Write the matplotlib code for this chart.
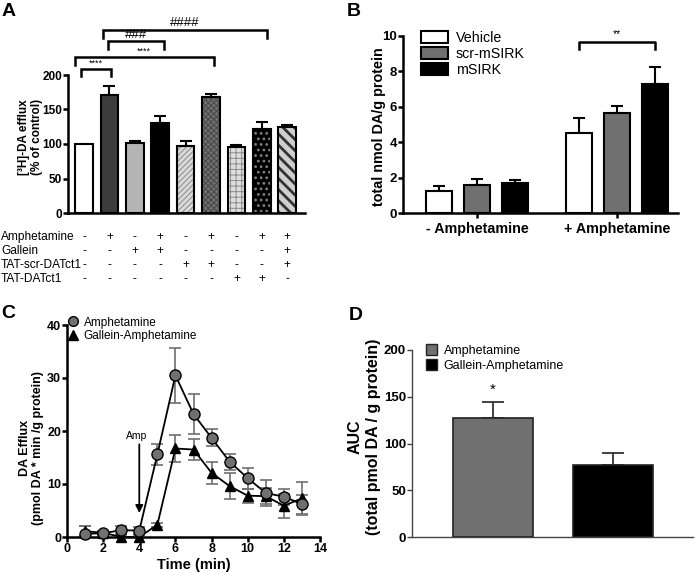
import matplotlib
matplotlib.use('Agg')
import matplotlib.pyplot as plt
import matplotlib.transforms as mtransforms
from matplotlib.lines import Line2D
from matplotlib.patches import Patch

plt.rcParams['font.family'] = ['Liberation Sans', 'DejaVu Sans']

# ---------------- Panel A data ----------------
a_values = [100, 171, 101, 130, 97, 168, 95, 122, 124]
a_errors = [0, 13, 3, 10, 7, 5, 4, 10, 4]
a_yticks = [0, 50, 100, 150, 200]
a_rows = ['Amphetamine', 'Gallein', 'TAT-scr-DATct1', 'TAT-DATct1']
a_amph = ['-', '+', '-', '+', '-', '+', '-', '+', '+']
a_gallein = ['-', '-', '+', '+', '-', '-', '-', '-', '+']
a_tatscr = ['-', '-', '-', '-', '+', '+', '-', '-', '+']
a_tat = ['-', '-', '-', '-', '-', '-', '+', '+', '-']
a_bracket_start = [-0.1, -0.35, 0.95, 0.75]
a_bracket_end = [1.05, 5.1, 3.15, 7.2]
a_bracket_top = [209, 226, 249, 265]
a_bracket_labels = ['****', '****', '###', '####']

# ---------------- Panel B data ----------------
b_groups = ['- Amphetamine', '+ Amphetamine']
b_series = ['Vehicle', 'scr-mSIRK', 'mSIRK']
b_vehicle = [1.25, 4.5]
b_vehicle_err = [0.3, 0.85]
b_scr = [1.6, 5.65]
b_scr_err = [0.32, 0.42]
b_msirk = [1.72, 7.3]
b_msirk_err = [0.15, 0.95]
b_yticks = [0, 2, 4, 6, 8, 10]

# ---------------- Panel C data ----------------
c_time = [1, 2, 3, 4, 5, 6, 7, 8, 9, 10, 11, 12, 13]
c_amph = [0.6, 0.7, 1.3, 1.2, 15.6, 30.5, 23.2, 18.7, 14.2, 11.1, 8.3, 7.6, 6.2]
c_amph_err = [1.4, 0.5, 0.8, 0.6, 2.0, 5.2, 3.8, 1.6, 1.5, 2.0, 2.4, 1.5, 1.8]
c_gall = [1.1, 0.8, 0.0, 0.0, 2.3, 16.7, 16.5, 12.1, 9.6, 7.8, 7.7, 5.9, 7.3]
c_gall_err = [0.9, 0.4, 0.4, 0.3, 0.4, 2.5, 2.0, 2.1, 2.5, 1.3, 1.5, 2.3, 3.1]
c_xticks = [0, 2, 4, 6, 8, 10, 12, 14]
c_yticks = [0, 10, 20, 30, 40]

# ---------------- Panel D data ----------------
d_labels = ['Amphetamine', 'Gallein-Amphetamine']
d_values = [127, 77]
d_errors = [17, 13]
d_yticks = [0, 50, 100, 150, 200]

W, H = 695, 573
fig = plt.figure(figsize=(W / 100, H / 100), dpi=100)


def px_axes(left, top, right, bottom):
    return fig.add_axes([left / W, (H - bottom) / H, (right - left) / W, (bottom - top) / H])


def style_axes(ax, lw=1.8, color='black', size=8.5):
    for s in ['top', 'right']:
        ax.spines[s].set_visible(False)
    for s in ['left', 'bottom']:
        ax.spines[s].set_linewidth(lw)
        ax.spines[s].set_color(color)
    ax.tick_params(axis='both', direction='out', length=3.5, width=lw, color=color,
                   labelsize=size, pad=0.8)
    for lab in ax.get_yticklabels() + ax.get_xticklabels():
        lab.set_fontweight('bold')


# ================= Panel A =================
axA = px_axes(68, 75, 305, 213)
a_face = ['white', '#3c3c3c', '#b4b4b4', 'black', '#dadada', '#727272', '#dedede', 'black', '#cfcfcf']
a_hatch = [None, None, None, None, '//////', 'xxxxxx', '+++', '...', '\\\\\\']
a_hcol = ['black', 'black', 'black', 'black', '#8a8a8a', '#4a4a4a', '#8a8a8a', '#808080', '#333333']
a_hlw = [1, 1, 1, 1, 0.7, 0.8, 0.7, 1.2, 2.0]
bw = 0.69
for i, v in enumerate(a_values):
    plt.rcParams['hatch.linewidth'] = a_hlw[i]
    axA.bar(i, v, width=bw, color=a_face[i], hatch=a_hatch[i], edgecolor=a_hcol[i], linewidth=0, zorder=2)
    axA.bar(i, v, width=bw, fill=False, edgecolor='black', linewidth=1.5, zorder=3)
    if a_errors[i] > 0:
        axA.errorbar(i, v, yerr=[[0], [a_errors[i]]], fmt='none', ecolor='black',
                     elinewidth=1.5, capsize=4, capthick=1.5, zorder=1)
axA.set_xlim(-0.63, 8.7)
axA.set_ylim(0, 200)
axA.set_yticks(a_yticks)
axA.set_xticks([])
style_axes(axA, size=8.5)
axA.set_ylabel('[³H]-DA efflux\n(% of control)', fontsize=8.5, fontweight='bold', linespacing=1.1)
axA.yaxis.set_label_coords(-0.105, 0.55)

for x0, x1, yt, lab in zip(a_bracket_start, a_bracket_end, a_bracket_top, a_bracket_labels):
    leg = 11
    axA.plot([x0, x0, x1, x1], [yt - leg, yt, yt, yt - leg], color='black', lw=1.8,
             clip_on=False, solid_joinstyle='miter')
    if lab.startswith('*'):
        axA.text((x0 + x1) / 2, yt + 2, lab, ha='center', va='bottom', fontsize=6.5, clip_on=False)
    else:
        axA.text((x0 + x1) / 2, yt + 1, lab, ha='center', va='bottom', fontsize=9.5, clip_on=False)

trA = mtransforms.blended_transform_factory(axA.transData, fig.transFigure)
row_y = [237, 251, 265, 279]
for r, (name, signs) in enumerate(zip(a_rows, [a_amph, a_gallein, a_tatscr, a_tat])):
    yy = (H - row_y[r]) / H
    fig.text(1 / W, yy, name, ha='left', va='center', fontsize=8.6)
    for i, s in enumerate(signs):
        axA.text(i, yy, s, transform=trA, ha='center', va='center', fontsize=8.5, clip_on=False)

# ================= Panel B =================
axB = px_axes(403, 36, 678, 213)
b_cols = ['white', '#707070', 'black']
b_vals = [b_vehicle, b_scr, b_msirk]
b_errs = [b_vehicle_err, b_scr_err, b_msirk_err]
b_off = [-0.27, 0.0, 0.27]
b_w = 0.186
handles = []
for k in range(3):
    gx = [g + b_off[k] for g in range(len(b_groups))]
    axB.bar(gx, b_vals[k], width=b_w, color=b_cols[k], edgecolor='black', linewidth=1.5, zorder=3)
    axB.errorbar(gx, b_vals[k], yerr=[[0] * len(gx), b_errs[k]], fmt='none', ecolor='black',
                 elinewidth=1.5, capsize=4, capthick=1.5, zorder=2)
    handles.append(Patch(facecolor=b_cols[k], edgecolor='black', linewidth=1.5, label=b_series[k]))
axB.set_xlim(-0.53, 1.436)
axB.set_ylim(0, 10)
axB.set_yticks(b_yticks)
axB.set_xticks(range(len(b_groups)))
axB.set_xticklabels(b_groups)
style_axes(axB, size=9.5)
axB.tick_params(axis='x', labelsize=10.3, pad=3)
axB.set_ylabel('total nmol DA/g protein', fontsize=10.4, fontweight='bold')
axB.yaxis.set_label_coords(-0.06, 0.49)
axB.legend(handles=handles, loc='upper left', bbox_to_anchor=(0.065, 1.03), frameon=False,
           prop={'size': 10.3}, handlelength=1.9, handleheight=0.9, labelspacing=0.15,
           handletextpad=0.55, borderaxespad=0, borderpad=0)
bx0 = 1 + b_off[0]
bx1 = 1 + b_off[2]
axB.plot([bx0, bx0, bx1, bx1], [9.27, 9.68, 9.68, 9.27], color='black', lw=1.8, clip_on=False)
axB.text((bx0 + bx1) / 2, 9.85, '**', ha='center', va='bottom', fontsize=7.5, clip_on=False)

# ================= Panel C =================
axC = px_axes(67, 325, 320, 537)
axC.errorbar(c_time, c_amph, yerr=c_amph_err, fmt='none', ecolor='#707070', elinewidth=1.2,
             capsize=4, capthick=1.2, zorder=1)
axC.errorbar(c_time, c_gall, yerr=c_gall_err, fmt='none', ecolor='#707070', elinewidth=1.2,
             capsize=4, capthick=1.2, zorder=1)
axC.plot(c_time, c_gall, color='black', lw=1.3, marker='^', markersize=6.5,
         markerfacecolor='black', markeredgecolor='black', zorder=3, clip_on=False)
axC.plot(c_time, c_amph, color='black', lw=1.3, marker='o', markersize=8,
         markerfacecolor='#707070', markeredgecolor='black', markeredgewidth=1.0, zorder=4, clip_on=False)
axC.set_xlim(0, 14)
axC.set_ylim(0, 40)
axC.set_xticks(c_xticks)
axC.set_yticks(c_yticks)
style_axes(axC, size=9)
axC.set_xlabel('Time (min)', fontsize=10.5, fontweight='bold', labelpad=2)
axC.set_ylabel('DA Efflux\n(pmol DA * min /g protein)', fontsize=9, fontweight='bold', linespacing=1.15)
axC.yaxis.set_label_coords(-0.09, 0.42)
axC.text(3.87, 19.0, 'Amp', ha='center', va='center', fontsize=7.5)
axC.annotate('', xy=(4, 4.0), xytext=(4, 18.0),
             arrowprops=dict(arrowstyle='-|>', color='black', lw=1.3, mutation_scale=11))
c_handles = [Line2D([], [], ls='none', marker='o', markersize=7, markerfacecolor='#707070',
                    markeredgecolor='black', label='Amphetamine'),
             Line2D([], [], ls='none', marker='^', markersize=6.5, markerfacecolor='black',
                    markeredgecolor='black', label='Gallein-Amphetamine')]
axC.legend(handles=c_handles, loc='upper left', bbox_to_anchor=(0.0, 1.04), frameon=False,
           fontsize=8.5, handlelength=1.0, handletextpad=0.4, labelspacing=0.1,
           borderaxespad=0, borderpad=0)

# ================= Panel D =================
axD = px_axes(412, 350, 693, 537)
d_cols = ['#707070', 'black']
d_x = list(range(len(d_values)))
axD.bar(d_x, d_values, width=0.667, color=d_cols, edgecolor='#222222', linewidth=1.2, zorder=3)
axD.errorbar(d_x, d_values, yerr=[[0] * len(d_x), d_errors], fmt='none', ecolor='#333333',
             elinewidth=1.3, capsize=8, capthick=1.3, zorder=2)
axD.text(0, 150, '*', ha='center', va='bottom', fontsize=11)
axD.set_xlim(-0.675, 1.667)
axD.set_ylim(0, 200)
axD.set_yticks(d_yticks)
axD.set_xticks([])
style_axes(axD, lw=1.0, color='#444444', size=9.5)
axD.set_ylabel('AUC\n(total pmol DA / g protein)', fontsize=11.5, fontweight='bold', linespacing=1.3)
axD.yaxis.set_label_coords(-0.11, 0.535)
d_handles = [Patch(facecolor=d_cols[k], edgecolor='#222222', linewidth=1.0, label=d_labels[k])
             for k in range(2)]
axD.legend(handles=d_handles, loc='upper left', bbox_to_anchor=(0.05, 1.03), frameon=False,
           fontsize=9, handlelength=0.9, handleheight=0.9, labelspacing=0.2,
           handletextpad=0.5, borderaxespad=0, borderpad=0)

# Panel letters
for letter, x, y in [('A', 2, 11), ('B', 347, 11), ('C', 1, 313), ('D', 349, 316)]:
    fig.text(x / W, (H - y) / H, letter, ha='left', va='center', fontsize=14, fontweight='bold')

fig.savefig('out.png', dpi=100)
